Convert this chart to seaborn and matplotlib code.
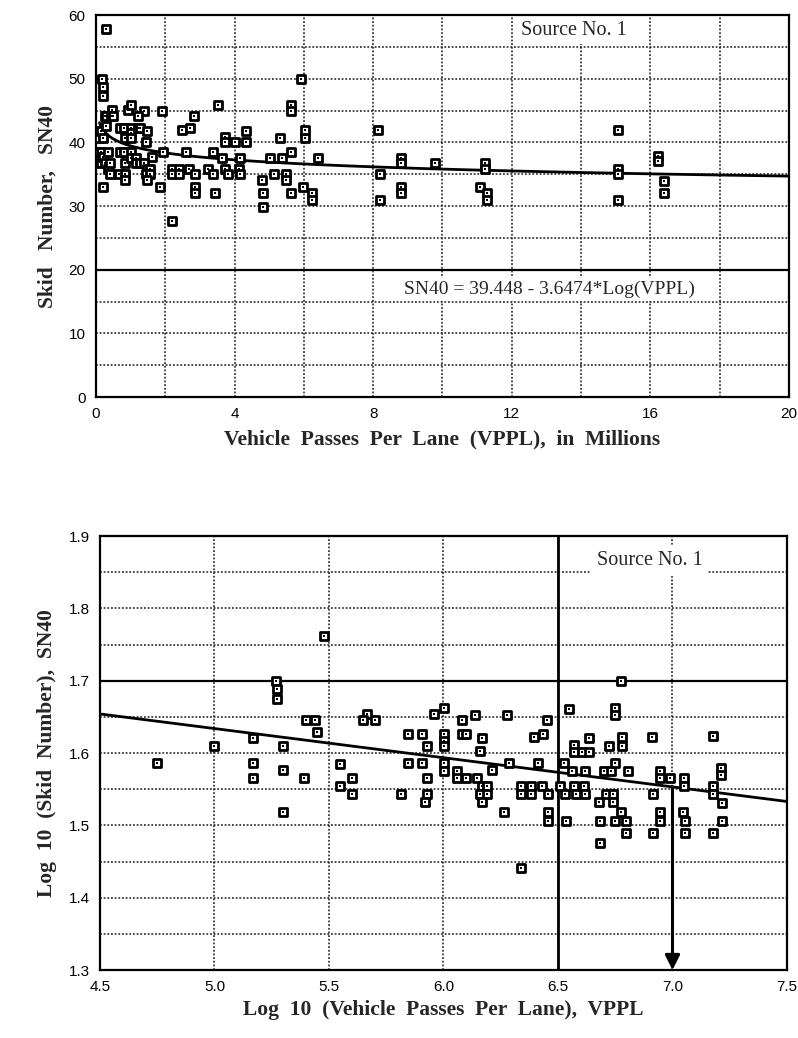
import numpy as np
import pandas as pd
import matplotlib
matplotlib.use("Agg")
import matplotlib.pyplot as plt
import seaborn as sns
from matplotlib.ticker import MultipleLocator

# ------------------------------------------------------------------------
# Data: points (log10 VPPL, log10 SN40).
# The upper panel shows the same points on linear axes (VPPL in millions).
# ------------------------------------------------------------------------
log_vppl = [
    4.75, 5.00, 5.27, 5.275, 5.275, 5.17, 5.17, 5.17, 5.30, 5.30, 5.30,
    5.39, 5.40, 5.44, 5.447, 5.48, 5.547, 5.547, 5.60, 5.60, 5.665, 5.65, 5.70,
    5.816, 5.845, 5.904, 5.926, 5.845, 5.904, 5.926, 5.926, 5.918, 5.96,
    6.004, 6.004, 6.004, 6.004, 6.004, 6.004,
    6.773, 6.547, 6.75, 6.75, 6.139, 6.08, 6.279, 6.45, 6.08, 6.10, 6.168,
    6.394, 6.434, 6.16, 6.571, 6.57, 6.603, 6.636, 6.635, 6.724, 6.78, 6.78,
    6.91, 7.178, 6.286, 6.414, 6.527, 6.212, 6.058, 6.058, 6.10, 6.146,
    6.56, 6.62, 6.70, 6.73, 6.75, 6.807, 6.945, 6.945, 6.99, 7.05, 7.05,
    7.21, 7.21, 7.178, 7.178, 7.215, 7.215, 6.17, 6.19, 6.16, 6.19, 6.17,
    6.264, 6.34, 6.38, 6.43, 6.34, 6.38, 6.456, 6.51, 6.57, 6.615, 6.53,
    6.58, 6.62, 6.71, 6.74, 6.68, 6.74, 6.777, 6.913, 6.945, 6.945, 7.045,
    7.053, 6.456, 6.456, 6.537, 6.684, 6.75, 6.795, 6.795, 6.913, 7.053,
    7.178, 6.684, 6.34,
]
log_sn = [
    1.586, 1.610, 1.699, 1.688, 1.675, 1.621, 1.586, 1.565, 1.610, 1.576, 1.519,
    1.565, 1.645, 1.645, 1.629, 1.762, 1.585, 1.554, 1.565, 1.544, 1.654, 1.645, 1.645,
    1.544, 1.626, 1.626, 1.610, 1.586, 1.586, 1.565, 1.544, 1.532, 1.654,
    1.662, 1.626, 1.617, 1.610, 1.586, 1.575,
    1.699, 1.661, 1.662, 1.653, 1.653, 1.645, 1.653, 1.645, 1.626, 1.626, 1.621,
    1.622, 1.626, 1.603, 1.611, 1.602, 1.602, 1.602, 1.621, 1.610, 1.610, 1.622,
    1.622, 1.623, 1.586, 1.586, 1.586, 1.576, 1.575, 1.565, 1.565, 1.565,
    1.575, 1.575, 1.575, 1.575, 1.586, 1.575, 1.575, 1.565, 1.565, 1.565, 1.555,
    1.579, 1.569, 1.555, 1.544, 1.531, 1.506, 1.554, 1.554, 1.544, 1.544, 1.532,
    1.519, 1.554, 1.554, 1.554, 1.544, 1.544, 1.544, 1.554, 1.554, 1.554, 1.544,
    1.544, 1.544, 1.544, 1.544, 1.532, 1.532, 1.519, 1.544, 1.519, 1.506, 1.519,
    1.506, 1.519, 1.506, 1.506, 1.506, 1.506, 1.506, 1.490, 1.490, 1.490,
    1.490, 1.476, 1.441,
]

# fitted equation printed on the upper panel
sn_intercept = 39.448
sn_slope = -3.6474
fit_vppl_range = (0.1, 20.0)

# fitted line on the lower panel (end points)
log_fit_x = [4.5, 7.5]
log_fit_y = [1.654, 1.533]
ref_log_vppl = 6.5       # solid vertical reference line
target_log_vppl = 7.0    # arrow down to the x axis

df = pd.DataFrame({"log_vppl": log_vppl, "log_sn": log_sn})
df["vppl_m"] = 10 ** df["log_vppl"] / 1e6
df["sn40"] = 10 ** df["log_sn"]

fit_x = np.geomspace(*fit_vppl_range, 200)
fit_df = pd.DataFrame({"vppl_m": fit_x,
                       "sn40": sn_intercept + sn_slope * np.log10(fit_x)})
log_fit_df = pd.DataFrame({"log_vppl": log_fit_x, "log_sn": log_fit_y})

# ------------------------------------------------------------------------
# Style
# ------------------------------------------------------------------------
sns.set_style("white")
plt.rcParams["font.family"] = ["Liberation Sans", "DejaVu Sans"]
serif = ["Liberation Serif", "DejaVu Serif"]

fig = plt.figure(figsize=(7.98, 10.38), dpi=100)
ax1 = fig.add_axes([0.1203, 0.6175, 0.8684, 0.368])
ax2 = fig.add_axes([0.1253, 0.0655, 0.8609, 0.4181])

grid_kw = dict(color="#1a1a1a", linestyle=(0, (1.2, 1.2)), linewidth=1.1)
label_kw = dict(fontsize=15.5, fontweight="bold", family=serif)


def square_points(ax, data, x, y):
    sns.scatterplot(data=data, x=x, y=y, ax=ax, marker="s", s=26,
                    facecolor="white", edgecolor="black", linewidth=2.0,
                    zorder=4, legend=False)
    sns.scatterplot(data=data, x=x, y=y, ax=ax, marker="s", s=2,
                    color="black", linewidth=0, zorder=5, legend=False)


def frame(ax):
    for sp in ax.spines.values():
        sp.set_color("black")
        sp.set_linewidth(1.6)
    ax.tick_params(which="both", direction="inout", colors="black",
                   width=1.2, labelsize=11)
    ax.tick_params(which="major", length=9, pad=3)
    ax.tick_params(which="minor", length=6)


# ------------------------------------------------------------------------
# Upper panel: linear axes
# ------------------------------------------------------------------------
ax1.set_xlim(0, 20)
ax1.set_ylim(0, 60)
ax1.xaxis.set_major_locator(MultipleLocator(4))
ax1.xaxis.set_minor_locator(MultipleLocator(2))
ax1.yaxis.set_major_locator(MultipleLocator(10))
ax1.yaxis.set_minor_locator(MultipleLocator(5))
ax1.grid(which="both", **grid_kw)
ax1.axhline(20, color="black", linewidth=1.6, zorder=2)
ax1.set_axisbelow(True)

sns.lineplot(data=fit_df, x="vppl_m", y="sn40", ax=ax1, color="black",
             linewidth=2.0, zorder=3)
square_points(ax1, df, "vppl_m", "sn40")

ax1.text(13.8, 57.6, "Source No. 1", ha="center", va="center", fontsize=14.5,
         family=serif, zorder=6,
         bbox=dict(facecolor="white", edgecolor="none", pad=3))
ax1.text(13.1, 16.9, "SN40 = 39.448 - 3.6474*Log(VPPL)", ha="center",
         va="center", fontsize=14, family=serif, zorder=6,
         bbox=dict(facecolor="white", edgecolor="none", pad=2))

ax1.set_xlabel("Vehicle  Passes  Per  Lane  (VPPL),  in  Millions",
               labelpad=6, **label_kw)
ax1.set_ylabel("Skid   Number,   SN40", labelpad=8, **label_kw)
frame(ax1)

# ------------------------------------------------------------------------
# Lower panel: log10 axes
# ------------------------------------------------------------------------
ax2.set_xlim(4.5, 7.5)
ax2.set_ylim(1.3, 1.9)
ax2.xaxis.set_major_locator(MultipleLocator(0.5))
ax2.xaxis.set_minor_locator(MultipleLocator(0.25))
ax2.yaxis.set_major_locator(MultipleLocator(0.1))
ax2.yaxis.set_minor_locator(MultipleLocator(0.05))
ax2.xaxis.set_major_formatter(lambda v, p: f"{v:.1f}")
ax2.yaxis.set_major_formatter(lambda v, p: f"{v:.1f}")
ax2.grid(which="major", axis="x", **grid_kw)
ax2.grid(which="both", axis="y", **grid_kw)
ax2.axhline(1.7, color="black", linewidth=1.6, zorder=2)
ax2.axvline(ref_log_vppl, color="black", linewidth=2.0, zorder=3)
ax2.set_axisbelow(True)

sns.lineplot(data=log_fit_df, x="log_vppl", y="log_sn", ax=ax2,
             color="black", linewidth=2.0, zorder=3)
square_points(ax2, df, "log_vppl", "log_sn")

y_at_target = np.interp(target_log_vppl, log_fit_x, log_fit_y)
ax2.annotate("", xy=(target_log_vppl, 1.3), xytext=(target_log_vppl, y_at_target),
             arrowprops=dict(arrowstyle="-|>", color="black", lw=2.2,
                             mutation_scale=22, shrinkA=0, shrinkB=0),
             zorder=6)

ax2.text(6.9, 1.866, "Source No. 1", ha="center", va="center", fontsize=14.5,
         family=serif, zorder=6,
         bbox=dict(facecolor="white", edgecolor="none", pad=4))

ax2.set_xlabel("Log  10  (Vehicle  Passes  Per  Lane),  VPPL",
               labelpad=4, **label_kw)
ax2.set_ylabel("Log  10  (Skid  Number),  SN40", labelpad=8, **label_kw)
frame(ax2)

fig.savefig("out.png", dpi=100)
